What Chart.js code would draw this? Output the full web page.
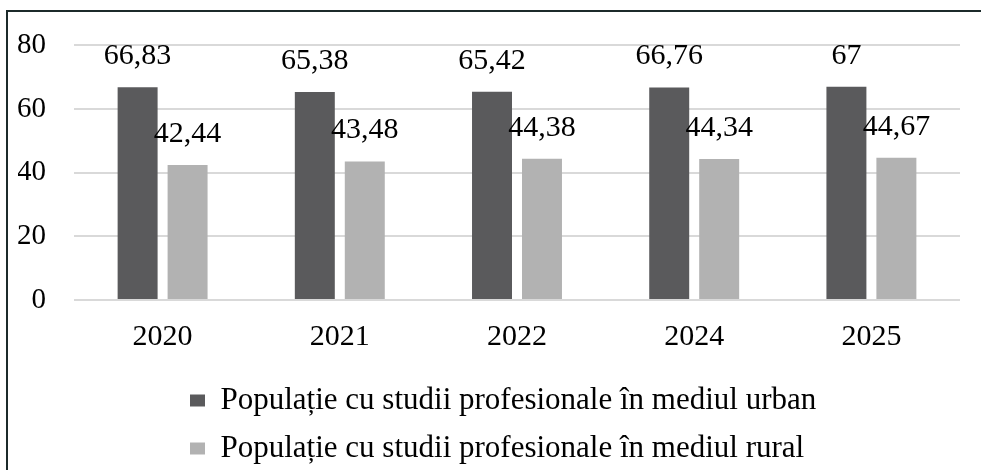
<!DOCTYPE html>
<html>
<head>
<meta charset="utf-8">
<script src="https://cdn.jsdelivr.net/npm/chart.js@4.4.1/dist/chart.umd.min.js"></script>
<style>
  html, body { margin: 0; padding: 0; background: #fff; }
  #wrap { position: relative; width: 981px; height: 470px; overflow: hidden; }
  #frame { position: absolute; left: 6px; top: 10px; width: 1000px; height: 500px;
           border-top: 2px solid #1c2a2a; border-left: 2px solid #1c2a2a; box-sizing: border-box; }
  canvas { position: absolute; left: 0; top: 0; }
</style>
</head>
<body>
<div id="wrap">
  <div id="frame"></div>
  <canvas id="c" width="981" height="474"></canvas>
</div>
<script>
const categories = ["2020", "2021", "2022", "2024", "2025"];
const urbanLabel = "Populație cu studii profesionale în mediul urban";
const ruralLabel = "Populație cu studii profesionale în mediul rural";
const urbanValues = [66.83, 65.38, 65.42, 66.76, 67];
const ruralValues = [42.44, 43.48, 44.38, 44.34, 44.67];
const yTicks = [0, 20, 40, 60, 80];

const FONT = "'Liberation Serif', 'Times New Roman', serif";

const valueLabels = {
  id: 'valueLabels',
  afterDatasetsDraw(chart) {
    const ctx = chart.ctx;
    ctx.save();
    ctx.font = "30px " + FONT;
    ctx.fillStyle = "#000";
    ctx.textAlign = "center";
    ctx.textBaseline = "middle";
    chart.data.datasets.forEach((ds, i) => {
      const meta = chart.getDatasetMeta(i);
      meta.data.forEach((el, j) => {
        const txt = String(ds.data[j]).replace('.', ',');
        ctx.fillText(txt, el.x, el.y - 31);
      });
    });
    ctx.restore();
  }
};

// move the left-aligned legend block to where the original has it
const legendShift = {
  id: 'legendShift',
  afterLayout(chart) {
    if (chart.legend) { chart.legend.left += 155; chart.legend.right += 155; }
  }
};

new Chart(document.getElementById('c'), {
  type: 'bar',
  data: {
    labels: categories,
    datasets: [
      { label: urbanLabel, data: urbanValues, backgroundColor: '#5a5a5c',
        categoryPercentage: 0.564, barPercentage: 0.8 },
      { label: ruralLabel, data: ruralValues, backgroundColor: '#b2b2b2',
        categoryPercentage: 0.564, barPercentage: 0.8 }
    ]
  },
  options: {
    responsive: false,
    animation: false,
    layout: { padding: { left: 18, right: 21, top: 43, bottom: 0 } },
    scales: {
      x: {
        grid: { display: false, drawTicks: false },
        border: { display: false },
        ticks: { font: { family: FONT, size: 30 }, color: '#000', padding: 19 },
        afterFit(scale) { scale.height = 68; }
      },
      y: {
        min: 0, max: 80,
        afterBuildTicks(axis) { axis.ticks = yTicks.map(v => ({ value: v })); },
        grid: { color: '#d9d9d9', lineWidth: 2, drawTicks: false },
        border: { display: false },
        ticks: { font: { family: FONT, size: 29 }, color: '#000', padding: 28 },
        afterFit(scale) { scale.width = 56; }
      }
    },
    plugins: {
      legend: {
        position: 'bottom',
        align: 'start',
        labels: { font: { family: FONT, size: 31 }, color: '#000', boxWidth: 15, boxHeight: 12, padding: 17 }
      },
      tooltip: { enabled: false }
    }
  },
  plugins: [valueLabels, legendShift]
});
</script>
</body>
</html>
